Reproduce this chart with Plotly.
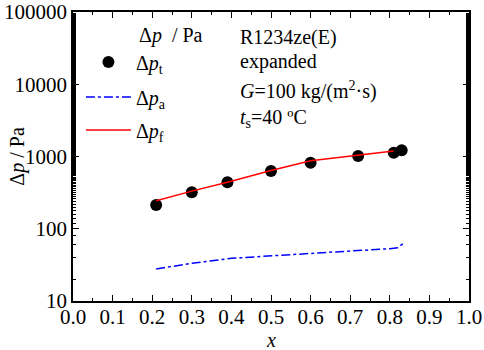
import plotly.graph_objects as go

x_t = [0.21, 0.30, 0.39, 0.50, 0.60, 0.72, 0.81, 0.83]
dp_t = [213, 319, 440, 630, 820, 1016, 1130, 1219]

x_f = [0.21, 0.30, 0.39, 0.50, 0.60, 0.72, 0.81]
dp_f = [244, 332, 440, 640, 875, 1050, 1192]

x_a = [0.21, 0.30, 0.40, 0.50, 0.60, 0.70, 0.80, 0.82, 0.835]
dp_a = [27.7, 33.3, 39.0, 42.4, 45.7, 49.2, 53.0, 54.7, 63.0]

x_ticks = [0.0, 0.1, 0.2, 0.3, 0.4, 0.5, 0.6, 0.7, 0.8, 0.9, 1.0]
y_ticks = [10, 100, 1000, 10000, 100000]

FONT = "Liberation Serif"
FS = 20
TFS = 21

fig = go.Figure()
fig.add_trace(go.Scatter(x=x_t, y=dp_t, mode="markers", name="Δ<i>p</i><sub>t</sub>",
                         marker=dict(color="black", size=12), legend="legend"))
fig.add_trace(go.Scatter(x=x_a, y=dp_a, mode="lines", name="Δ<i>p</i><sub>a</sub>",
                         line=dict(color="blue", width=1.5, dash="dashdot"), legend="legend2"))
fig.add_trace(go.Scatter(x=x_f, y=dp_f, mode="lines", name="Δ<i>p</i><sub>f</sub>",
                         line=dict(color="red", width=1.5), legend="legend3"))

def ann(text, x, y, **kw):
    fig.add_annotation(text=text, xref="paper", yref="paper", x=x, y=y,
                       showarrow=False, font=dict(family=FONT, size=FS, color="black"), **kw)

notes = ["R1234ze(E)", "expanded", "<i>G</i>=100 kg/(m<sup>2</sup>·s)", "<i>t</i><sub>s</sub>=40 ºC"]
ys = [0.913, 0.827, 0.730, 0.633]
for t, yy in zip(notes, ys):
    ann(t, 0.417, yy, xanchor="left", yanchor="middle")

ann("Δ<i>p</i>  / Pa", 0.162, 0.92, xanchor="left", yanchor="middle")
ann("Δ<i>p</i> / Pa", -0.141, 0.50, xanchor="center", yanchor="middle", textangle=-90)
ann("<i>x</i>", 0.5, -0.135, xanchor="center", yanchor="middle")

axis_common = dict(showline=True, linecolor="black", linewidth=1.5, mirror="allticks",
                   ticks="inside", ticklen=6, tickwidth=1.2, tickcolor="black",
                   showgrid=False, zeroline=False, automargin=False,
                   tickfont=dict(family=FONT, size=TFS, color="black"))

fig.update_xaxes(range=[0, 1], tickvals=x_ticks, ticktext=[f"{v:.1f}" for v in x_ticks],
                 minor=dict(ticks="inside", ticklen=3, tickcolor="black", dtick=0.05),
                 ticklabelstandoff=-4,
                 **axis_common)
fig.update_yaxes(type="log", range=[1, 5], tickvals=y_ticks, ticktext=[str(v) for v in y_ticks],
                 minor=dict(ticks="inside", ticklen=3, tickcolor="black", showgrid=False),
                 **axis_common)

leg = dict(xanchor="left", yanchor="middle", bgcolor="rgba(0,0,0,0)", borderwidth=0,
           font=dict(family=FONT, size=FS, color="black"), itemwidth=45)
fig.update_layout(
    width=484, height=350,
    font=dict(family=FONT, size=FS, color="black"),
    margin=dict(l=73, r=15, t=12, b=49),
    paper_bgcolor="white", plot_bgcolor="white",
    showlegend=True,
    legend=dict(x=0.02, y=0.827, **leg),
    legend2=dict(x=0.02, y=0.706, **leg),
    legend3=dict(x=0.02, y=0.592, **leg),
)

fig.write_html("out.html", config={"displayModeBar": False},
               post_script="document.body.style.margin='0';document.body.style.padding='0';")
